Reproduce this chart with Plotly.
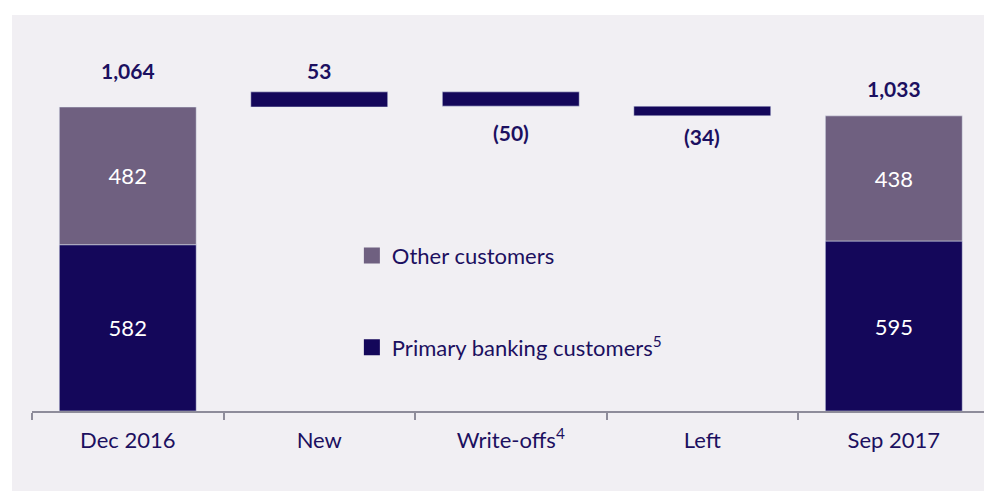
import plotly.graph_objects as go

# ---- data ----
categories = ["Dec 2016", "New", "Write-offs", "Left", "Sep 2017"]
tick_labels = ["Dec 2016", "New", "Write-offs<sup>4</sup>", "Left", "Sep 2017"]
end_points = ["Dec 2016", "Sep 2017"]
primary = [582, 595]
other = [482, 438]
change_cats = ["New", "Write-offs", "Left"]
changes = [53, -50, -34]
change_labels = ["53", "(50)", "(34)"]
total_labels = ["1,064", "1,033"]

NAVY = "#14075A"
PURPLE = "#6F6080"
TEXT = "#1C1060"
BG = "#F1EFF3"
FONT = "Lato"

totals = [p + o for p, o in zip(primary, other)]

# waterfall bases
bases = []
run = totals[0]
for c in changes:
    bases.append(run)
    run += c

fig = go.Figure()

fig.add_trace(go.Bar(
    x=end_points, y=primary, base=[0, 0], marker_color=NAVY, width=0.715,
    text=[str(v) for v in primary], textposition="inside", insidetextanchor="middle",
    textfont=dict(color="white", size=22, family=FONT), constraintext="none",
    showlegend=False, hoverinfo="skip"))
fig.add_trace(go.Bar(
    x=end_points, y=other, base=primary, marker_color=PURPLE, width=0.715,
    text=[str(v) for v in other], textposition="inside", insidetextanchor="middle",
    textfont=dict(color="white", size=22, family=FONT), constraintext="none",
    showlegend=False, hoverinfo="skip"))
fig.add_trace(go.Bar(
    x=change_cats, y=changes, base=bases, marker_color=NAVY, width=0.715,
    showlegend=False, hoverinfo="skip"))

# legend entries
fig.add_trace(go.Scatter(x=[None], y=[None], mode="markers", name="Other customers",
                         marker=dict(symbol="square", size=16, color=PURPLE),
                         legendgroup="o"))
fig.add_trace(go.Scatter(x=[None], y=[None], mode="markers",
                         name="Primary banking customers<sup>5</sup>",
                         marker=dict(symbol="square", size=16, color=NAVY),
                         legendgroup="p"))

annotations = []
total_shifts = [22, 13]
for cat, t, lab, s in zip(end_points, totals, total_labels, total_shifts):
    annotations.append(dict(x=cat, y=t, text="<b>" + lab + "</b>", showarrow=False,
                            yanchor="bottom", yshift=s,
                            font=dict(size=21, color=TEXT, family=FONT)))
change_shifts = [7, -12, -6]
for cat, b, c, lab, s in zip(change_cats, bases, changes, change_labels, change_shifts):
    if c >= 0:
        annotations.append(dict(x=cat, y=b + c, text="<b>" + lab + "</b>", showarrow=False,
                                yanchor="bottom", yshift=s,
                                font=dict(size=21, color=TEXT, family=FONT)))
    else:
        annotations.append(dict(x=cat, y=b + c, text="<b>" + lab + "</b>", showarrow=False,
                                yanchor="top", yshift=s,
                                font=dict(size=21, color=TEXT, family=FONT)))

fig.update_layout(
    width=984, height=491,
    margin=dict(l=32, r=0, t=15, b=80),
    paper_bgcolor="white", plot_bgcolor="rgba(0,0,0,0)",
    barmode="overlay",
    font=dict(family=FONT, color=TEXT, size=22),
    annotations=annotations,
    shapes=[dict(type="rect", xref="paper", yref="paper", x0=-20 / 952, x1=1.0,
                 y0=-80 / 396, y1=1.0, fillcolor=BG, line=dict(width=0), layer="below")],
    legend=dict(x=0.336, y=0.445, xanchor="left", yanchor="top",
                bgcolor="rgba(0,0,0,0)", font=dict(size=22, color=TEXT, family=FONT),
                tracegroupgap=60, itemwidth=30),
    xaxis=dict(type="category", categoryorder="array", categoryarray=categories,
               tickvals=categories, ticktext=tick_labels,
               range=[-0.5, 4.471], showline=True, linecolor="#8E8C9A", linewidth=2,
               ticks="outside", tickson="boundaries", ticklen=7, tickcolor="#8E8C9A",
               tickwidth=1.5, showgrid=False, zeroline=False, ticklabelstandoff=9,
               tickfont=dict(size=22, color=TEXT, family=FONT), fixedrange=True),
    yaxis=dict(range=[0, 1386], visible=False, showgrid=False, zeroline=False,
               fixedrange=True),
)

fig.write_html("out.html", config={"displayModeBar": False},
               post_script="document.body.style.margin='0';")
